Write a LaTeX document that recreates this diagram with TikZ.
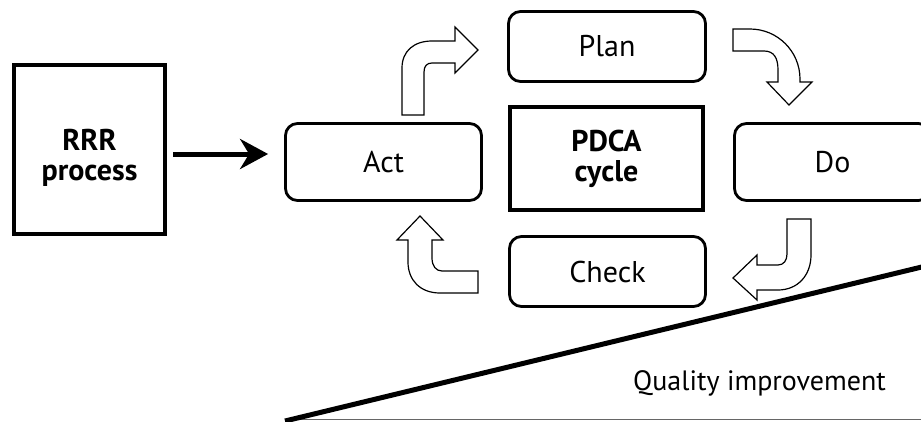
\documentclass[tikz,border=0pt]{standalone}
\usepackage{fontspec}
\setmainfont{PT Sans}
\usetikzlibrary{arrows.meta}
\begin{document}
\begin{tikzpicture}[x=1pt,y=-1pt,
  lbl/.style={font=\fontsize{30}{26}\selectfont},
  rbox/.style={lbl, draw, line width=2.8, rounded corners=12, inner sep=0, align=center},
  sbox/.style={draw, line width=4, inner sep=0, align=center, font=\fontsize{30}{30}\selectfont\bfseries},
  barrow/.style={draw, line width=1.2, fill=white, line join=miter},
  bigarrow/.style={line width=5, -{Stealth[length=28, width=30, inset=9]}}
]
\useasboundingbox (0,0) rectangle (921,421);

% wedge
\draw[line width=1.6, black!60] (285,419.5) -- (930,419.5);
\draw[line width=5] (285,421) -- (930,265);
\node[font=\fontsize{28}{30}\selectfont, anchor=base] (qi) at (759.5,390) {Quality improvement};

% RRR box
\node[sbox, minimum width=151, minimum height=169] (rrr) at (89.5,149.5) {};
\node[sbox, draw=none] (rrrt) at (89.5,158) {RRR\\process};

% PDCA boxes
\node[rbox, minimum width=196, minimum height=77] (act) at (383.5,162) {Act};
\node[rbox, minimum width=197, minimum height=70] (plan) at (607,46.5) {Plan};
\node[sbox, minimum width=193, minimum height=103] (pdca) at (606.5,158.5) {PDCA\\cycle};
\node[rbox, minimum width=196, minimum height=77] (do) at (832.5,162) {Do};
\node[rbox, minimum width=196, minimum height=70] (check) at (607.5,271.5) {Check};

% input arrow
\coordinate (a0) at (173,154);
\draw[bigarrow, shorten >=16] (a0) -- (act.west |- a0);

% block arrows
% Act -> Plan
\draw[barrow] (402,115) -- (402,68) .. controls (402,51) and (414,41) .. (432,41)
  -- (455,41) -- (455,27) -- (478,50) -- (455,73) -- (455,63) -- (432,63)
  .. controls (427,63) and (424,66) .. (424,72) -- (424,115) -- cycle;
% Plan -> Do
\draw[barrow] (733,29) -- (750,29) .. controls (777.6,29) and (800,51.4) .. (800,79)
  -- (800,82) -- (812,82) -- (789,105) -- (767,82) -- (778,82) -- (778,70)
  .. controls (778,58) and (774,51) .. (764,51) -- (733,51) -- cycle;
% Do -> Check
\draw[barrow] (787,219) -- (811,219) -- (811,255) .. controls (811,275) and (798,290) .. (778,290)
  -- (757,290) -- (757,300) -- (733,278) -- (757,255) -- (757,265) -- (778,265)
  .. controls (784,265) and (787,260) .. (787,254) -- cycle;
% Check -> Act
\draw[barrow] (408,240) -- (408,262) .. controls (408,280) and (420,293) .. (440,293)
  -- (478,293) -- (478,271) -- (442,271) .. controls (436,271) and (432,266) .. (432,258)
  -- (432,240) -- (443,240) -- (420,216) -- (397,240) -- cycle;
\end{tikzpicture}
\end{document}
